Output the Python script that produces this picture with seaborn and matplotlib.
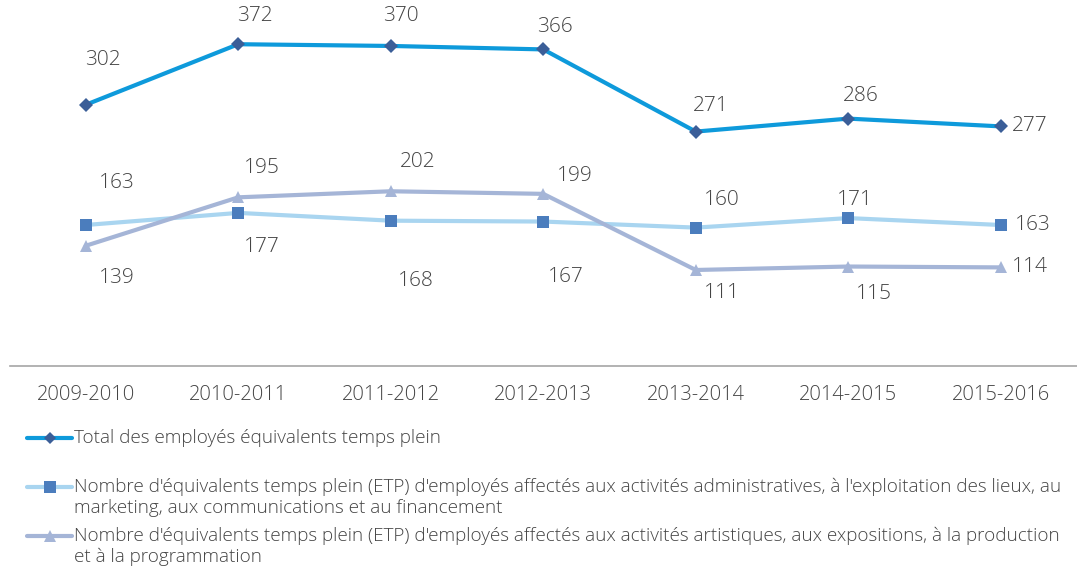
import matplotlib
matplotlib.use("Agg")
import matplotlib.pyplot as plt
from matplotlib.lines import Line2D
import seaborn as sns
import pandas as pd

years = ["2009-2010", "2010-2011", "2011-2012", "2012-2013",
         "2013-2014", "2014-2015", "2015-2016"]
total = [302, 372, 370, 366, 271, 286, 277]
admin = [163, 177, 168, 167, 160, 171, 163]
artist = [139, 195, 202, 199, 111, 115, 114]

labels = [
    "Total des employés équivalents temps plein",
    "Nombre d'équivalents temps plein (ETP) d'employés affectés aux activités administratives, à l'exploitation des lieux, au\nmarketing, aux communications et au financement",
    "Nombre d'équivalents temps plein (ETP) d'employés affectés aux activités artistiques, aux expositions, à la production\net à la programmation",
]

# label offsets in pixels (dx, dy up), per point
off_total = [(17, 45), (17, 28), (10, 30), (12, 22), (15, 26), (12, 23), (11, 0)]
off_admin = [(31, 42), (24, -34), (25, -60), (23, -55), (26, 28), (7, 18), (14, 0)]
off_artist = [(31, -32), (24, 29), (27, 29), (32, 18), (26, -23), (26, -27), (11, 0)]

TEXT = "#444444"
sns.set_theme(style="white")
plt.rcParams["font.family"] = ["Open Sans", "DejaVu Sans"]
plt.rcParams["font.weight"] = "light"

fig = plt.figure(figsize=(10.77, 5.71), dpi=100)
ax = fig.add_axes([9.5 / 1077, 1 - 366 / 571, 1 - 9.5 / 1077, 346 / 571])

df = pd.DataFrame({"year": years, "total": total, "admin": admin, "artist": artist})
df["x"] = range(len(years))

series = [
    ("total", "#0E9ADB", "D", "#3B5E98", 7, off_total),
    ("admin", "#A9D5F0", "s", "#4B7DBD", 9, off_admin),
    ("artist", "#A5B5D7", "^", "#A5B5D7", 9, off_artist),
]

for col, lc, mk, mc, ms, offs in series:
    sns.lineplot(data=df, x="x", y=col, ax=ax, color=lc, linewidth=3,
                 marker=mk, markersize=ms, markerfacecolor=mc,
                 markeredgecolor=mc, markeredgewidth=0)
    for i, (xv, yv) in enumerate(zip(df["x"], df[col])):
        dx, dy = offs[i]
        ha = "left" if i == len(years) - 1 else "center"
        ax.annotate(str(yv), (xv, yv), xytext=(dx, dy), textcoords="offset pixels",
                    ha=ha, va="center", fontsize=15, color=TEXT)

ax.set_xlim(-0.5, len(years) - 0.5)
ax.set_ylim(0, 400)
ax.set_xticks(range(len(years)))
ax.set_xticklabels(years, fontsize=14.5, color=TEXT)
ax.set_yticks([])
ax.set_xlabel("")
ax.set_ylabel("")
ax.tick_params(axis="x", length=0, pad=14)
for s in ["top", "left", "right"]:
    ax.spines[s].set_visible(False)
ax.spines["bottom"].set_color("#A6A6A6")
ax.spines["bottom"].set_linewidth(1.2)

# legend drawn as a vertical list
leg_y = [438, 487, 536]
for (col, lc, mk, mc, ms, _), lab, yp in zip(series, labels, leg_y):
    yf = 1 - yp / 571
    fig.add_artist(Line2D([27 / 1077, 72 / 1077], [yf, yf], color=lc, linewidth=3,
                          transform=fig.transFigure))
    fig.add_artist(Line2D([49.5 / 1077], [yf], marker=mk, markersize=ms - 1,
                          color=mc, markeredgewidth=0, linestyle="none",
                          transform=fig.transFigure))
    fig.text(74 / 1077, yf + 9 / 571, lab, ha="left", va="top", fontsize=13.6,
             color=TEXT, linespacing=1.18)

fig.savefig("out.png", dpi=100)
